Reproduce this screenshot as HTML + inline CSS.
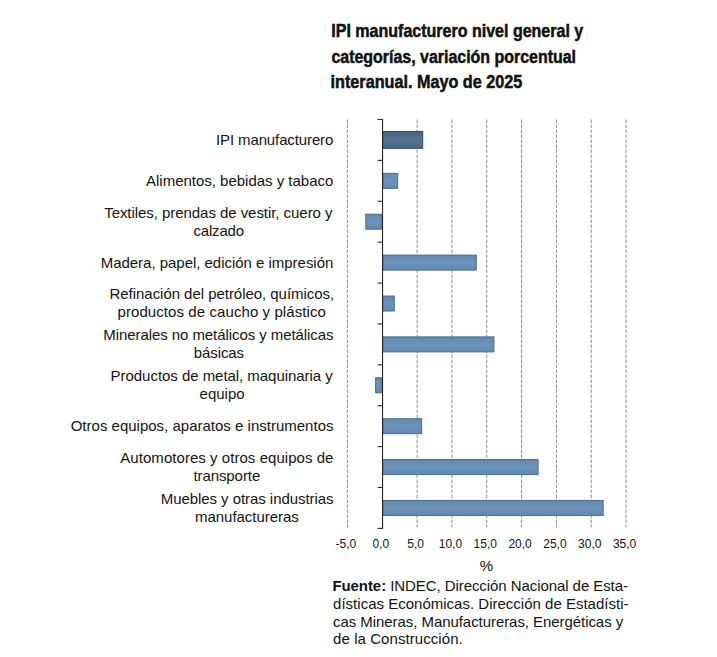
<!DOCTYPE html>
<html><head><meta charset="utf-8"><style>
html,body{margin:0;padding:0;background:#fff;}
body{width:717px;height:657px;position:relative;overflow:hidden;}
svg{position:absolute;left:0;top:0;}
text{font-family:"Liberation Sans",sans-serif;fill:#141414;white-space:pre;}
.xl{font-size:12px;}
.t15{font-size:15px;}
.tt{font-size:18px;font-weight:bold;fill:#111;stroke:#111;stroke-width:0.5px;}
</style></head><body>
<svg width="717" height="657" viewBox="0 0 717 657"><defs>
<linearGradient id="gl" x1="0" y1="0" x2="0" y2="1">
<stop offset="0" stop-color="#6189ad"/><stop offset="0.5" stop-color="#6b94bb"/><stop offset="1" stop-color="#628aaf"/></linearGradient>
<linearGradient id="gd" x1="0" y1="0" x2="0" y2="1">
<stop offset="0" stop-color="#4a6884"/><stop offset="0.5" stop-color="#527290"/><stop offset="1" stop-color="#4a6884"/></linearGradient>
</defs><line x1="347.40" y1="119.5" x2="347.40" y2="527.4" stroke="#8f8f8f" stroke-width="1" stroke-dasharray="3.5 1.5"/><line x1="417.08" y1="119.5" x2="417.08" y2="527.4" stroke="#8f8f8f" stroke-width="1" stroke-dasharray="3.5 1.5"/><line x1="451.92" y1="119.5" x2="451.92" y2="527.4" stroke="#8f8f8f" stroke-width="1" stroke-dasharray="3.5 1.5"/><line x1="486.75" y1="119.5" x2="486.75" y2="527.4" stroke="#8f8f8f" stroke-width="1" stroke-dasharray="3.5 1.5"/><line x1="521.59" y1="119.5" x2="521.59" y2="527.4" stroke="#8f8f8f" stroke-width="1" stroke-dasharray="3.5 1.5"/><line x1="556.43" y1="119.5" x2="556.43" y2="527.4" stroke="#8f8f8f" stroke-width="1" stroke-dasharray="3.5 1.5"/><line x1="591.26" y1="119.5" x2="591.26" y2="527.4" stroke="#8f8f8f" stroke-width="1" stroke-dasharray="3.5 1.5"/><line x1="626.10" y1="119.5" x2="626.10" y2="527.4" stroke="#8f8f8f" stroke-width="1" stroke-dasharray="3.5 1.5"/><rect x="382.74" y="131.54" width="39.97" height="16.80" fill="url(#gd)" stroke="#34495f" stroke-width="1"/><rect x="382.74" y="173.34" width="14.96" height="15.00" fill="url(#gl)" stroke="#4d6c8c" stroke-width="1"/><rect x="365.81" y="214.22" width="15.93" height="15.00" fill="url(#gl)" stroke="#4d6c8c" stroke-width="1"/><rect x="382.74" y="255.12" width="93.55" height="15.00" fill="url(#gl)" stroke="#4d6c8c" stroke-width="1"/><rect x="382.74" y="296.00" width="11.54" height="15.00" fill="url(#gl)" stroke="#4d6c8c" stroke-width="1"/><rect x="382.74" y="336.89" width="111.18" height="15.00" fill="url(#gl)" stroke="#4d6c8c" stroke-width="1"/><rect x="375.63" y="377.79" width="6.11" height="15.00" fill="url(#gl)" stroke="#4d6c8c" stroke-width="1"/><rect x="382.74" y="418.68" width="38.92" height="15.00" fill="url(#gl)" stroke="#4d6c8c" stroke-width="1"/><rect x="382.74" y="459.56" width="155.35" height="15.00" fill="url(#gl)" stroke="#4d6c8c" stroke-width="1"/><rect x="382.74" y="500.45" width="220.43" height="15.00" fill="url(#gl)" stroke="#4d6c8c" stroke-width="1"/><line x1="382.55" y1="119.0" x2="382.55" y2="528.9" stroke="#262626" stroke-width="1.1"/><line x1="377.6" y1="119.50" x2="382.8" y2="119.50" stroke="#262626" stroke-width="1.1"/><line x1="377.6" y1="160.39" x2="382.8" y2="160.39" stroke="#262626" stroke-width="1.1"/><line x1="377.6" y1="201.28" x2="382.8" y2="201.28" stroke="#262626" stroke-width="1.1"/><line x1="377.6" y1="242.17" x2="382.8" y2="242.17" stroke="#262626" stroke-width="1.1"/><line x1="377.6" y1="283.06" x2="382.8" y2="283.06" stroke="#262626" stroke-width="1.1"/><line x1="377.6" y1="323.95" x2="382.8" y2="323.95" stroke="#262626" stroke-width="1.1"/><line x1="377.6" y1="364.84" x2="382.8" y2="364.84" stroke="#262626" stroke-width="1.1"/><line x1="377.6" y1="405.73" x2="382.8" y2="405.73" stroke="#262626" stroke-width="1.1"/><line x1="377.6" y1="446.62" x2="382.8" y2="446.62" stroke="#262626" stroke-width="1.1"/><line x1="377.6" y1="487.51" x2="382.8" y2="487.51" stroke="#262626" stroke-width="1.1"/><line x1="377.6" y1="528.40" x2="382.8" y2="528.40" stroke="#262626" stroke-width="1.1"/><text x="345.90" y="547.8" text-anchor="middle" class="xl">-5,0</text><text x="380.74" y="547.8" text-anchor="middle" class="xl">0,0</text><text x="415.58" y="547.8" text-anchor="middle" class="xl">5,0</text><text x="450.42" y="547.8" text-anchor="middle" class="xl">10,0</text><text x="485.25" y="547.8" text-anchor="middle" class="xl">15,0</text><text x="520.09" y="547.8" text-anchor="middle" class="xl">20,0</text><text x="554.93" y="547.8" text-anchor="middle" class="xl">25,0</text><text x="589.76" y="547.8" text-anchor="middle" class="xl">30,0</text><text x="624.60" y="547.8" text-anchor="middle" class="xl">35,0</text><text x="486.3" y="571.3" text-anchor="middle" class="t15">%</text><text x="216.00" y="144.84" class="t15" letter-spacing="-0.118">IPI manufacturero</text><text x="146.00" y="185.74" class="t15" letter-spacing="-0.010">Alimentos, bebidas y tabaco</text><text x="104.20" y="217.62" class="t15" letter-spacing="-0.052">Textiles, prendas de vestir, cuero y</text><text x="193.40" y="235.62" class="t15" letter-spacing="-0.160">calzado</text><text x="100.70" y="267.51" class="t15" letter-spacing="-0.025">Madera, papel, edición e impresión</text><text x="109.50" y="299.40" class="t15" letter-spacing="-0.039">Refinación del petróleo, químicos,</text><text x="117.50" y="317.40" class="t15" letter-spacing="0.082">productos de caucho y plástico</text><text x="103.30" y="340.29" class="t15" letter-spacing="-0.072">Minerales no metálicos y metálicas</text><text x="193.80" y="358.29" class="t15" letter-spacing="-0.093">básicas</text><text x="110.60" y="381.19" class="t15" letter-spacing="-0.040">Productos de metal, maquinaria y</text><text x="199.60" y="399.19" class="t15" letter-spacing="-0.000">equipo</text><text x="70.70" y="431.07" class="t15" letter-spacing="0.004">Otros equipos, aparatos e instrumentos</text><text x="120.30" y="462.96" class="t15" letter-spacing="0.047">Automotores y otros equipos de</text><text x="193.40" y="480.96" class="t15" letter-spacing="-0.077">transporte</text><text x="160.70" y="503.85" class="t15" letter-spacing="-0.054">Muebles y otras industrias</text><text x="195.00" y="521.86" class="t15" letter-spacing="-0.032">manufactureras</text><text transform="translate(331.31,37.0) scale(0.8905,1)" x="0" y="0" class="tt">IPI manufacturero nivel general y</text><text transform="translate(331.40,62.5) scale(0.8866,1)" x="0" y="0" class="tt">categorías, variación porcentual</text><text transform="translate(330.60,87.9) scale(0.8997,1)" x="0" y="0" class="tt">interanual. Mayo de 2025</text><text x="332.40" y="591.0" class="t15" letter-spacing="-0.069"><tspan font-weight="bold">Fuente: </tspan>INDEC, Dirección Nacional de Esta-</text><text x="333.10" y="608.6" class="t15" letter-spacing="0.007">dísticas Económicas. Dirección de Estadísti-</text><text x="333.10" y="626.5" class="t15" letter-spacing="-0.062">cas Mineras, Manufactureras, Energéticas y</text><text x="333.10" y="644.2" class="t15" letter-spacing="0.070">de la Construcción.</text></svg>
</body></html>
